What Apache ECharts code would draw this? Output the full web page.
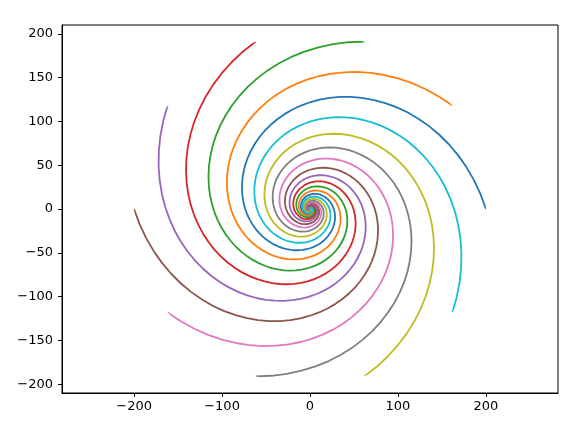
<!DOCTYPE html>
<html>
<head>
<meta charset="utf-8">
<script src="https://cdn.jsdelivr.net/npm/echarts@6/dist/echarts.min.js"></script>
<style>
  html, body { margin: 0; padding: 0; background: #fff; }
  #chart { width: 585px; height: 430px; }
</style>
</head>
<body>
<div id="chart"></div>
<script>
// one spiral arm: turn angle (deg, from the outer end) and radius read at that angle
const armTurn = [
  0, 5, 10, 15, 20, 25, 30, 35, 40, 45, 50, 55, 60, 65, 70, 75, 80, 85, 90,
  95, 100, 105, 110, 115, 120, 125, 130, 135, 140, 145, 150, 155, 160, 165, 170, 175, 180,
  185, 190, 195, 200, 205, 210, 215, 220, 225, 230, 235, 240, 245, 250, 255, 260, 265, 270,
  275, 280, 285, 290, 295, 300, 305, 310, 315, 320, 325, 330, 335, 340, 345, 350, 355, 360,
  370, 380, 390, 400, 410, 420, 430, 440, 450, 460, 470, 480, 490, 500, 510, 520, 530, 540,
  550, 560, 570, 580, 590, 600, 610, 620, 630, 640, 650, 660, 670, 680, 690, 700, 710, 720,
  740, 760, 780, 800, 820, 840, 860, 880, 900, 920, 940, 960, 980, 1000, 1020, 1040, 1060, 1080
];
const armRadius = [
  200, 194.5, 189.2, 184.0, 179.0, 174.1, 169.3, 164.7, 160.1, 155.8, 151.5, 147.3, 143.3,
  139.4, 135.6, 131.9, 128.2, 124.7, 121.3,
  118.0, 114.8, 111.6, 108.6, 105.6, 102.7, 99.9, 97.1, 94.5, 91.9, 89.4, 86.9, 84.5, 82.2,
  80.0, 77.8, 75.7, 73.6,
  71.6, 69.6, 67.7, 65.8, 64.0, 62.3, 60.6, 58.9, 57.3, 55.7, 54.2, 52.7, 51.3, 49.9, 48.5,
  47.2, 45.9, 44.6,
  43.4, 42.2, 41.1, 39.9, 38.8, 37.8, 36.7, 35.7, 34.8, 33.8, 32.9, 32.0, 31.1, 30.3, 29.4,
  28.6, 27.8, 27.1,
  25.6, 24.2, 22.9, 21.7, 20.5, 19.4, 18.4, 17.4, 16.4, 15.5, 14.7, 13.9, 13.2, 12.4, 11.8,
  11.1, 10.5, 10.0,
  9.4, 8.9, 8.4, 8.0, 7.5, 7.1, 6.8, 6.4, 6.0, 5.7, 5.4, 5.1, 4.8, 4.6, 4.3, 4.1, 3.9, 3.7,
  3.3, 2.9, 2.6, 2.35, 2.1, 1.9, 1.7, 1.5, 1.35, 1.2, 1.1, 0.97, 0.86, 0.77, 0.69, 0.62, 0.55, 0.5
];
// angle (deg) of the outer end of each arm
const startAngles = [0, 36, 72, 108, 144, 180, 216, 252, 288, 324];
const colors = ['#1f77b4', '#ff7f0e', '#2ca02c', '#d62728', '#9467bd',
                '#8c564b', '#e377c2', '#7f7f7f', '#bcbd22', '#17becf'];
const xTicks = [-200, -100, 0, 100, 200];
const yTicks = [-200, -150, -100, -50, 0, 50, 100, 150, 200];

const chart = echarts.init(document.getElementById('chart'));

const fmt = v => String(v).replace('-', '\u2212');

const axisCommon = {
  type: 'value',
  splitLine: { show: false },
  axisLine: { show: true, onZero: false, lineStyle: { color: '#000', width: 1 } },
  axisTick: { show: true, inside: false, length: 4, lineStyle: { color: '#000', width: 1 } },
  axisLabel: {
    color: '#000',
    fontFamily: 'DejaVu Sans',
    fontSize: 13,
    margin: 7,
    formatter: fmt
  }
};

const series = startAngles.map((a, s) => ({
  type: 'line',
  coordinateSystem: 'polar',
  polarIndex: 0,
  data: armRadius.map((r, i) => [r, a + armTurn[i]]),
  showSymbol: false,
  smooth: false,
  clip: false,
  silent: true,
  lineStyle: { color: colors[s], width: 1.8, join: 'round' },
  itemStyle: { color: colors[s] }
}));

chart.setOption({
  animation: false,
  backgroundColor: '#fff',
  grid: {
    left: 62, right: 27, top: 25, bottom: 37,
    show: true, borderColor: '#000', borderWidth: 1
  },
  xAxis: Object.assign({}, axisCommon, {
    min: -282, max: 282,
    axisTick: Object.assign({}, axisCommon.axisTick, { customValues: xTicks }),
    axisLabel: Object.assign({}, axisCommon.axisLabel, { customValues: xTicks })
  }),
  yAxis: Object.assign({}, axisCommon, {
    min: -210, max: 210,
    axisTick: Object.assign({}, axisCommon.axisTick, { customValues: yTicks }),
    axisLabel: Object.assign({}, axisCommon.axisLabel, { customValues: yTicks, margin: 9 })
  }),
  polar: { center: [310, 209], radius: 176 },
  angleAxis: { type: 'value', min: 0, max: 360, startAngle: 0, clockwise: false, show: false },
  radiusAxis: { type: 'value', min: 0, max: 200, show: false },
  series: series
});
</script>
</body>
</html>
